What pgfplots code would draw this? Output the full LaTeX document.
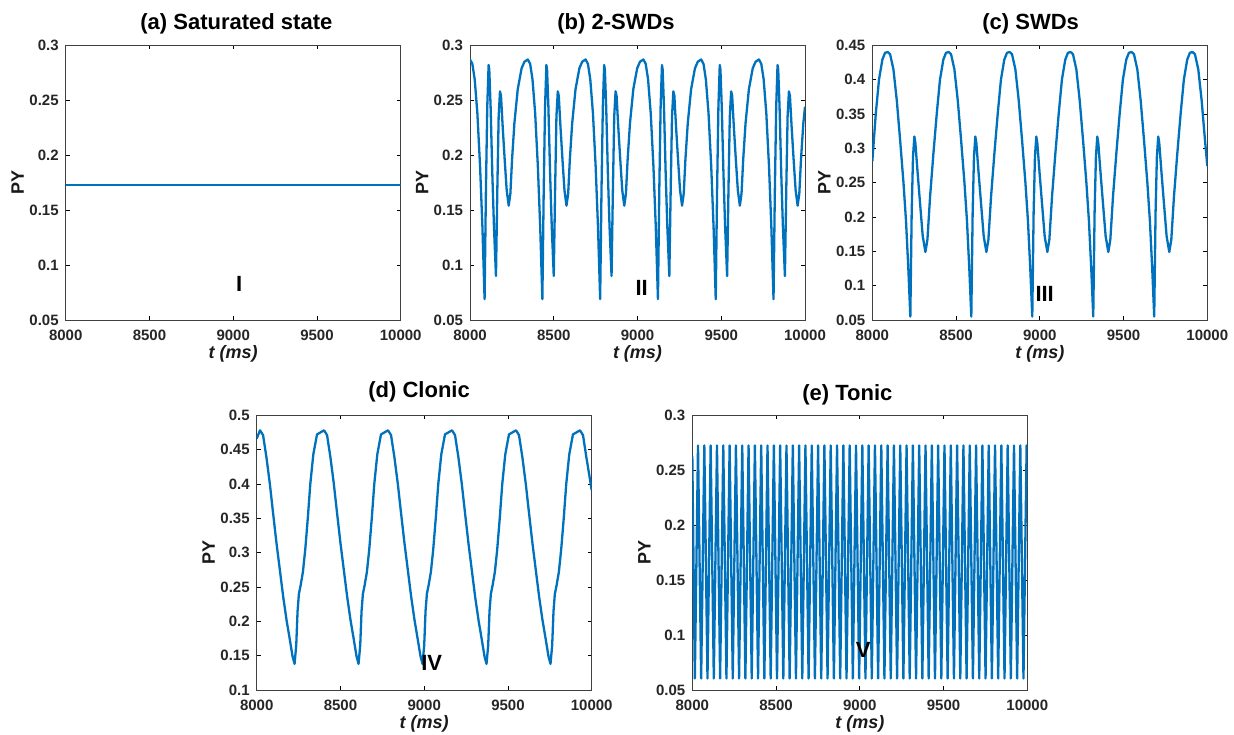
\documentclass[border=0pt]{standalone}
\usepackage{fontspec}
\setmainfont{Liberation Sans}
\usepackage{pgfplots}
\pgfplotsset{compat=1.18}
\definecolor{mblue}{RGB}{0,114,189}

\pgfplotsset{
  panel/.style={
    scale only axis, width=167.5pt, height=137.4pt,
    anchor=south west,
    xmin=8000, xmax=10000,
    xtick={8000,8500,9000,9500,10000},
    xticklabels={8000,8500,9000,9500,10000},
    scaled x ticks=false, scaled y ticks=false,
    tick align=inside, tick pos=both,
    xticklabel pos=lower, yticklabel pos=left,
    major tick length=2pt,
    tick style={black, line width=0.4pt},
    axis line style={black!75, line width=0.5pt},
    ticklabel style={font=\fontsize{7.5}{9}\selectfont\bfseries, text=black!85},
    xticklabel style={yshift=-1.5pt},
    xlabel={\itshape t (ms)}, ylabel={PY},
    label style={font=\fontsize{9}{11}\selectfont\bfseries, text=black!90},
    xlabel style={at={(axis description cs:0.5,-0.124)}, anchor=center},
    ylabel style={at={(axis description cs:-0.143,0.5)}, anchor=center},
  },
  curve/.style={mblue, line width=1.15pt, line join=round, no markers},
}
\tikzset{
  roman/.style={font=\fontsize{11}{13}\selectfont\bfseries, text=black},
  ttl/.style={anchor=base west, inner sep=0pt, font=\fontsize{11}{13}\selectfont\bfseries},
}

\begin{document}
\begin{tikzpicture}
\useasboundingbox (0pt,0pt) rectangle (617pt,367pt);

% (a) saturated state
\begin{axis}[panel, at={(32.85pt,207pt)},
  ymin=0.05, ymax=0.3,
  ytick={0.05,0.1,0.15,0.2,0.25,0.3},
  yticklabels={0.05,0.1,0.15,0.2,0.25,0.3}]
\addplot[curve] coordinates {(8000,0.1725) (10000,0.1725)};
\node[roman] at (axis cs:9036,0.083) {I};
\end{axis}

% (b) 2-SWDs
\begin{axis}[panel, at={(235pt,207pt)},
  ymin=0.05, ymax=0.3,
  ytick={0.05,0.1,0.15,0.2,0.25,0.3},
  yticklabels={0.05,0.1,0.15,0.2,0.25,0.3}]
\addplot[curve] table {
t PY
8000 .287
8014 .283
8028 .269
8044 .238
8060 .190
8074 .135
8087 .069
8095 .168
8103 .244
8111 .282
8115 .278
8123 .244
8133 .184
8143 .135
8155 .090
8163 .168
8171 .235
8179 .258
8185 .254
8195 .226
8207 .196
8219 .168
8231 .154
8241 .165
8251 .196
8265 .229
8285 .260
8308 .279
8325 .285
8345 .287
8359 .283
8373 .269
8389 .238
8405 .190
8419 .135
8432 .069
8440 .168
8448 .244
8456 .282
8460 .278
8468 .244
8478 .184
8488 .135
8500 .090
8508 .168
8516 .235
8524 .258
8530 .254
8540 .226
8552 .196
8564 .168
8576 .154
8586 .165
8596 .196
8610 .229
8630 .260
8653 .279
8670 .285
8690 .287
8704 .283
8718 .269
8734 .238
8750 .190
8764 .135
8777 .069
8785 .168
8793 .244
8801 .282
8805 .278
8813 .244
8823 .184
8833 .135
8845 .090
8853 .168
8861 .235
8869 .258
8875 .254
8885 .226
8897 .196
8909 .168
8921 .154
8931 .165
8941 .196
8955 .229
8975 .260
8998 .279
9015 .285
9035 .287
9049 .283
9063 .269
9079 .238
9095 .190
9109 .135
9122 .069
9130 .168
9138 .244
9146 .282
9150 .278
9158 .244
9168 .184
9178 .135
9190 .090
9198 .168
9206 .235
9214 .258
9220 .254
9230 .226
9242 .196
9254 .168
9266 .154
9276 .165
9286 .196
9300 .229
9320 .260
9343 .279
9360 .285
9380 .287
9394 .283
9408 .269
9424 .238
9440 .190
9454 .135
9467 .069
9475 .168
9483 .244
9491 .282
9495 .278
9503 .244
9513 .184
9523 .135
9535 .090
9543 .168
9551 .235
9559 .258
9565 .254
9575 .226
9587 .196
9599 .168
9611 .154
9621 .165
9631 .196
9645 .229
9665 .260
9688 .279
9705 .285
9725 .287
9739 .283
9753 .269
9769 .238
9785 .190
9799 .135
9812 .069
9820 .168
9828 .244
9836 .282
9840 .278
9848 .244
9858 .184
9868 .135
9880 .090
9888 .168
9896 .235
9904 .258
9910 .254
9920 .226
9932 .196
9944 .168
9956 .154
9966 .165
9976 .196
9990 .229
10000 .244
};
\node[roman] at (axis cs:9025,0.0796) {II};
\end{axis}

% (c) SWDs
\begin{axis}[panel, at={(436.15pt,207pt)},
  ymin=0.05, ymax=0.45,
  ytick={0.05,0.1,0.15,0.2,0.25,0.3,0.35,0.4,0.45},
  yticklabels={0.05,0.1,0.15,0.2,0.25,0.3,0.35,0.4,0.45}]
\addplot[curve] table {
t PY
8000 .281
8021 .351
8040 .400
8060 .429
8076 .439
8092 .440
8106 .437
8126 .415
8146 .370
8166 .312
8186 .250
8201 .195
8215 .125
8227 .055
8235 .206
8243 .288
8251 .317
8257 .308
8269 .269
8285 .220
8301 .172
8317 .149
8329 .167
8345 .230
8365 .293
8385 .351
8404 .400
8424 .429
8440 .439
8456 .440
8470 .437
8490 .415
8510 .370
8530 .312
8550 .250
8565 .195
8579 .125
8591 .055
8599 .206
8607 .288
8615 .317
8621 .308
8633 .269
8649 .220
8665 .172
8681 .149
8693 .167
8709 .230
8729 .293
8749 .351
8768 .400
8788 .429
8804 .439
8820 .440
8834 .437
8854 .415
8874 .370
8894 .312
8914 .250
8929 .195
8943 .125
8955 .055
8963 .206
8971 .288
8979 .317
8985 .308
8997 .269
9013 .220
9029 .172
9045 .149
9057 .167
9073 .230
9093 .293
9113 .351
9132 .400
9152 .429
9168 .439
9184 .440
9198 .437
9218 .415
9238 .370
9258 .312
9278 .250
9293 .195
9307 .125
9319 .055
9327 .206
9335 .288
9343 .317
9349 .308
9361 .269
9377 .220
9393 .172
9409 .149
9421 .167
9437 .230
9457 .293
9477 .351
9496 .400
9516 .429
9532 .439
9548 .440
9562 .437
9582 .415
9602 .370
9622 .312
9642 .250
9657 .195
9671 .125
9683 .055
9691 .206
9699 .288
9707 .317
9713 .308
9725 .269
9741 .220
9757 .172
9773 .149
9785 .167
9801 .230
9821 .293
9841 .351
9860 .400
9880 .429
9896 .439
9912 .440
9926 .437
9946 .415
9966 .370
9986 .312
10000 .274
};
\node[roman] at (axis cs:9029,0.088) {III};
\end{axis}

% (d) clonic
\begin{axis}[panel, at={(128.35pt,22pt)},
  ymin=0.1, ymax=0.5,
  ytick={0.1,0.15,0.2,0.25,0.3,0.35,0.4,0.45,0.5},
  yticklabels={0.1,0.15,0.2,0.25,0.3,0.35,0.4,0.45,0.5}]
\addplot[curve] table {
t PY
8000 .466
8020 .478
8038 .471
8058 .439
8078 .401
8098 .357
8118 .314
8138 .275
8158 .236
8178 .202
8198 .173
8214 .149
8226 .138
8236 .165
8244 .215
8252 .240
8262 .252
8276 .272
8290 .305
8305 .350
8320 .400
8338 .443
8360 .472
8402 .478
8420 .471
8440 .439
8460 .401
8480 .357
8500 .314
8520 .275
8540 .236
8560 .202
8580 .173
8596 .149
8608 .138
8618 .165
8626 .215
8634 .240
8644 .252
8658 .272
8672 .305
8687 .350
8702 .400
8720 .443
8742 .472
8784 .478
8802 .471
8822 .439
8842 .401
8862 .357
8882 .314
8902 .275
8922 .236
8942 .202
8962 .173
8978 .149
8990 .138
9000 .165
9008 .215
9016 .240
9026 .252
9040 .272
9054 .305
9069 .350
9084 .400
9102 .443
9124 .472
9166 .478
9184 .471
9204 .439
9224 .401
9244 .357
9264 .314
9284 .275
9304 .236
9324 .202
9344 .173
9360 .149
9372 .138
9382 .165
9390 .215
9398 .240
9408 .252
9422 .272
9436 .305
9451 .350
9466 .400
9484 .443
9506 .472
9548 .478
9566 .471
9586 .439
9606 .401
9626 .357
9646 .314
9666 .275
9686 .236
9706 .202
9726 .173
9742 .149
9754 .138
9764 .165
9772 .215
9780 .240
9790 .252
9804 .272
9818 .305
9833 .350
9848 .400
9866 .443
9888 .472
9930 .478
9948 .471
9968 .439
10000 .391
};
\node[roman] at (axis cs:9045,0.139) {IV};
\end{axis}

% (e) tonic
\begin{axis}[panel, at={(346.15pt,22pt)},
  ymin=0.05, ymax=0.3,
  ytick={0.05,0.1,0.15,0.2,0.25,0.3},
  yticklabels={0.05,0.1,0.15,0.2,0.25,0.3}]
\addplot[curve] table {
t PY
8000 .263
8015.1 .0605
8034.0 .2725
8052.8 .0605
8071.7 .2725
8090.6 .0605
8109.5 .2725
8128.3 .0605
8147.2 .2725
8166.0 .0605
8184.9 .2725
8203.8 .0605
8222.7 .2725
8241.5 .0605
8260.4 .2725
8279.2 .0605
8298.1 .2725
8316.9 .0605
8335.8 .2725
8354.7 .0605
8373.6 .2725
8392.4 .0605
8411.3 .2725
8430.1 .0605
8449.0 .2725
8467.9 .0605
8486.8 .2725
8505.6 .0605
8524.5 .2725
8543.3 .0605
8562.2 .2725
8581.1 .0605
8600.0 .2725
8618.8 .0605
8637.7 .2725
8656.5 .0605
8675.4 .2725
8694.2 .0605
8713.1 .2725
8732.0 .0605
8750.9 .2725
8769.7 .0605
8788.6 .2725
8807.4 .0605
8826.3 .2725
8845.2 .0605
8864.1 .2725
8882.9 .0605
8901.8 .2725
8920.6 .0605
8939.5 .2725
8958.4 .0605
8977.3 .2725
8996.1 .0605
9015.0 .2725
9033.8 .0605
9052.7 .2725
9071.5 .0605
9090.4 .2725
9109.3 .0605
9128.2 .2725
9147.0 .0605
9165.9 .2725
9184.7 .0605
9203.6 .2725
9222.5 .0605
9241.4 .2725
9260.2 .0605
9279.1 .2725
9297.9 .0605
9316.8 .2725
9335.7 .0605
9354.6 .2725
9373.4 .0605
9392.3 .2725
9411.1 .0605
9430.0 .2725
9448.8 .0605
9467.7 .2725
9486.6 .0605
9505.5 .2725
9524.3 .0605
9543.2 .2725
9562.0 .0605
9580.9 .2725
9599.8 .0605
9618.7 .2725
9637.5 .0605
9656.4 .2725
9675.2 .0605
9694.1 .2725
9713.0 .0605
9731.9 .2725
9750.7 .0605
9769.6 .2725
9788.4 .0605
9807.3 .2725
9826.1 .0605
9845.0 .2725
9863.9 .0605
9882.8 .2725
9901.6 .0605
9920.5 .2725
9939.3 .0605
9958.2 .2725
9977.1 .0605
9996.0 .2725
10000 .262
};
\node[roman] at (axis cs:9020,0.0864) {V};
\end{axis}

% panel titles
\node[ttl] at (70pt,352.3pt) {(a) Saturated state};
\node[ttl] at (278.5pt,352.3pt) {(b) 2-SWDs};
\node[ttl] at (491pt,352.3pt) {(c) SWDs};
\node[ttl] at (184pt,168.25pt) {(d) Clonic};
\node[ttl] at (401pt,167pt) {(e) Tonic};
\end{tikzpicture}
\end{document}
